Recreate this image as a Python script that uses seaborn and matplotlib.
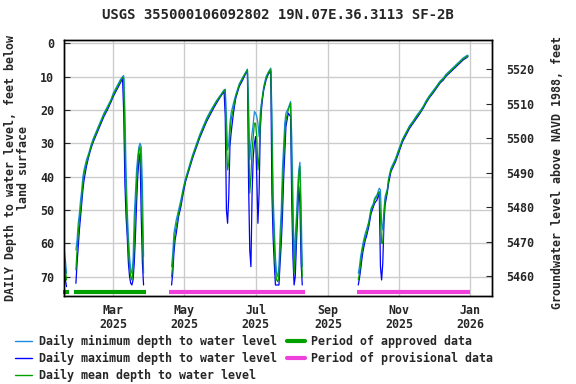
"""Groundwater depth hydrograph for USGS well 355000106092802.
"""
import matplotlib
matplotlib.use("Agg")
import matplotlib.pyplot as plt
from matplotlib.lines import Line2D
import pandas as pd
import seaborn as sns

# Daily depth to water (feet below land surface)
dates = [
    # Jan
    "2025-01-18", "2025-01-19", "2025-01-20",
    # Jan - Mar
    "2025-01-28", "2025-01-29", "2025-01-30", "2025-01-31", "2025-02-01",
    "2025-02-02", "2025-02-03", "2025-02-04", "2025-02-06", "2025-02-08",
    "2025-02-10", "2025-02-12", "2025-02-15", "2025-02-18", "2025-02-21",
    "2025-02-24", "2025-02-27", "2025-03-01", "2025-03-04", "2025-03-07",
    "2025-03-09", "2025-03-10", "2025-03-11", "2025-03-12", "2025-03-13",
    "2025-03-14", "2025-03-15", "2025-03-16", "2025-03-17", "2025-03-18",
    "2025-03-19", "2025-03-20", "2025-03-21", "2025-03-22", "2025-03-23",
    "2025-03-24", "2025-03-25", "2025-03-26", "2025-03-27",
    # Apr - Aug
    "2025-04-20", "2025-04-21", "2025-04-22", "2025-04-23", "2025-04-24",
    "2025-04-26", "2025-04-28", "2025-04-30", "2025-05-02", "2025-05-05",
    "2025-05-08", "2025-05-11", "2025-05-14", "2025-05-17", "2025-05-20",
    "2025-05-23", "2025-05-26", "2025-05-29", "2025-06-01", "2025-06-04",
    "2025-06-05", "2025-06-06", "2025-06-07", "2025-06-08", "2025-06-09",
    "2025-06-10", "2025-06-12", "2025-06-14", "2025-06-17", "2025-06-20",
    "2025-06-22", "2025-06-24", "2025-06-25", "2025-06-26", "2025-06-27",
    "2025-06-28", "2025-06-29", "2025-06-30", "2025-07-01", "2025-07-02",
    "2025-07-03", "2025-07-04", "2025-07-05", "2025-07-06", "2025-07-07",
    "2025-07-08", "2025-07-10", "2025-07-12", "2025-07-14", "2025-07-15",
    "2025-07-16", "2025-07-17", "2025-07-18", "2025-07-19", "2025-07-20",
    "2025-07-21", "2025-07-22", "2025-07-23", "2025-07-24", "2025-07-25",
    "2025-07-26", "2025-07-27", "2025-07-29", "2025-07-31", "2025-08-01",
    "2025-08-02", "2025-08-03", "2025-08-04", "2025-08-05", "2025-08-06",
    "2025-08-07", "2025-08-08", "2025-08-09", "2025-08-10",
    # Sep - Dec
    "2025-09-27", "2025-09-28", "2025-09-29", "2025-09-30", "2025-10-01",
    "2025-10-03", "2025-10-04", "2025-10-06", "2025-10-07", "2025-10-08",
    "2025-10-10", "2025-10-11", "2025-10-13", "2025-10-14", "2025-10-15",
    "2025-10-16", "2025-10-17", "2025-10-18", "2025-10-19", "2025-10-20",
    "2025-10-22", "2025-10-23", "2025-10-25", "2025-10-27", "2025-10-29",
    "2025-11-01", "2025-11-04", "2025-11-07", "2025-11-10", "2025-11-13",
    "2025-11-16", "2025-11-19", "2025-11-22", "2025-11-24", "2025-11-27",
    "2025-11-30", "2025-12-03", "2025-12-06", "2025-12-09", "2025-12-11",
    "2025-12-14", "2025-12-17", "2025-12-20", "2025-12-23", "2025-12-26",
    "2025-12-29", "2025-12-30",
]

depth_mean = [
    64, 68, 71,
    68, 62, 57, 53, 50, 46, 42, 39, 36, 33.5,
    31, 29, 26.5, 24, 21.5, 19.5, 17.3, 15.5, 13.5, 11.5,
    10.3, 10.5, 30, 45, 55, 62, 67, 70, 71, 68,
    60, 50, 42, 36, 32, 31, 38, 55, 69,
    70, 66, 60, 57, 55, 51, 48, 44, 41, 37.5,
    34, 31, 28, 25.5, 23, 21, 19, 17.2, 15.8, 14.2,
    14, 30, 38, 36, 27, 23, 19.5, 16, 12.5, 10.5,
    9.2, 8, 25, 45, 40, 32, 28, 24, 24, 28,
    38, 34, 24, 18.5, 16, 13.5, 10.5, 8.9, 7.8, 28,
    50, 60, 68, 71, 71.5, 70, 62, 55, 44, 35,
    28, 23, 20, 18, 38, 55, 69, 64, 55, 48,
    40, 37, 58, 70,
    71, 69, 66, 63, 61, 58, 57, 54, 52, 50,
    48.5, 47, 46, 45, 44.5, 52, 60, 60, 52, 47,
    44, 41, 38, 36.5, 35, 32, 29, 27, 25, 23.7,
    22, 20.7, 19, 17.7, 16, 14.7, 13.2, 11.7, 10.7, 9.7,
    8.7, 7.7, 6.7, 5.7, 4.7, 4, 3.8,
]

depth_min = [
    62, 65, 69,
    62, 59, 54, 51, 47, 44, 40, 38, 35, 33,
    30.5, 28.5, 26, 23.5, 21, 19, 17, 15, 13, 11,
    10, 9.7, 20, 38, 50, 58, 64, 68, 69, 65,
    52, 45, 38, 34, 31, 30, 31, 42, 64,
    67, 63, 57, 55, 53, 50, 47, 43.5, 40.5, 37,
    33.5, 30.5, 27.5, 25, 22.5, 20.5, 18.7, 17, 15.5, 14,
    13.8, 22, 32, 30, 24, 21, 18, 15.5, 12.2, 10.2,
    9, 7.8, 18, 35, 30, 27, 24, 20.5, 21, 22,
    24, 28, 21, 18, 15.5, 13, 10, 8.6, 7.5, 20,
    45, 55, 64, 69, 70, 67, 57, 50, 38, 31,
    24, 21, 19.5, 17.5, 28, 45, 66, 58, 52, 44,
    38, 35.7, 48, 67,
    69, 67, 64, 62, 60, 57, 56, 53.5, 51.5, 49.5,
    48, 46.5, 45.5, 44.5, 43.5, 44, 54, 56, 50, 46,
    43.5, 40.5, 37.5, 36, 34.5, 31.5, 28.7, 26.7, 24.7, 23.3,
    21.7, 20.3, 18.7, 17.3, 15.7, 14.3, 12.9, 11.4, 10.4, 9.4,
    8.4, 7.4, 6.4, 5.4, 4.4, 3.7, 3.6,
]

depth_max = [
    67, 71, 73,
    72, 66, 61, 56, 52, 48, 44, 41, 37, 34,
    31.5, 29.5, 27, 24.5, 22, 20, 17.7, 16, 14, 12,
    10.6, 21, 42, 52, 58, 66, 70, 72, 72.5, 71,
    66, 58, 48, 40, 35, 33, 52, 66, 72.5,
    72.5, 69, 63, 59, 57, 52, 49, 45, 41.5, 38,
    34.5, 31.5, 28.5, 26, 23.5, 21.5, 19.5, 17.7, 16, 14.5,
    22, 50, 54, 46, 31, 27, 21, 16.5, 13, 11,
    9.5, 8.3, 42, 62, 67, 45, 34, 30, 28, 40,
    54, 45, 26, 20, 16.5, 14, 11, 9.2, 8.5, 45,
    58, 66, 72.5, 72.5, 72.5, 72.5, 66, 60, 52, 41,
    33, 25, 21, 22, 48, 64, 72.5, 70, 60, 52,
    43, 48, 66, 72.5,
    72.5, 70.5, 68, 65, 62.5, 59, 58, 55, 53, 51,
    49, 48, 47, 46, 45, 67, 71, 66, 54, 48.5,
    44.5, 42, 38.5, 37, 35.5, 32.5, 29.5, 27.5, 25.5, 24,
    22.5, 21, 19.3, 18, 16.3, 15, 13.5, 12, 11, 10,
    9, 8, 7, 6, 5, 4.3, 4,
]

# Data-approval periods (drawn as bars along the bottom)
approved_periods = [("2025-01-17", "2025-01-22"), ("2025-01-26", "2025-03-29")]
provisional_periods = [("2025-04-18", "2025-08-12"), ("2025-09-26", "2026-01-01")]

# Axis ticks
tick_dates = ["2025-03-01", "2025-05-01", "2025-07-01",
              "2025-09-01", "2025-11-01", "2026-01-01"]
tick_labels = ["Mar\n2025", "May\n2025", "Jul\n2025",
               "Sep\n2025", "Nov\n2025", "Jan\n2026"]
elev_ticks = [5460, 5470, 5480, 5490, 5500, 5510, 5520]

assert len(dates) == len(depth_mean) == len(depth_min) == len(depth_max)

# Build a long dataframe, breaking the lines where data are missing
df = pd.DataFrame({
    "date": pd.to_datetime(dates),
    "Daily minimum depth to water level": depth_min,
    "Daily maximum depth to water level": depth_max,
    "Daily mean depth to water level": depth_mean,
})
df["seg"] = (df["date"].diff().dt.days > 4).cumsum()
long = df.melt(id_vars=["date", "seg"], var_name="series", value_name="depth")

series_order = ["Daily minimum depth to water level",
                "Daily maximum depth to water level",
                "Daily mean depth to water level"]
palette = {series_order[0]: "#1a8cdc",
           series_order[1]: "#0000ff",
           series_order[2]: "#00a000"}
approved_color = "#00a000"
provisional_color = "#f040dc"

sns.set_style("white")
plt.rcParams["font.family"] = ["DejaVu Sans Mono"]
plt.rcParams["font.weight"] = "bold"
plt.rcParams["axes.labelweight"] = "bold"
plt.rcParams["axes.titleweight"] = "bold"
plt.rcParams["font.size"] = 8.4

fig = plt.figure(figsize=(5.76, 3.84), dpi=100)
ax = fig.add_axes([0.111, 0.2292, 0.7437, 0.6679])

sns.lineplot(
    data=long,
    x="date",
    y="depth",
    hue="series",
    hue_order=series_order,
    palette=palette,
    units="seg",
    estimator=None,
    legend=False,
    lw=0.9,
    ax=ax,
)

# Approval period bars
for start, end in approved_periods:
    ax.plot(pd.to_datetime([start, end]), [74.7, 74.7], color=approved_color,
            lw=3, solid_capstyle="butt", clip_on=False)
for start, end in provisional_periods:
    ax.plot(pd.to_datetime([start, end]), [74.7, 74.7], color=provisional_color,
            lw=3, solid_capstyle="butt", clip_on=False)

ax.set_xlim(pd.Timestamp("2025-01-17 18:00"), pd.Timestamp("2026-01-19 21:00"))
ax.set_ylim(75.8, -1.1)
ax.set_yticks(range(0, 71, 10))
ax.set_xticks(pd.to_datetime(tick_dates))
ax.set_xticklabels(tick_labels, linespacing=1.05)
ax.grid(True, color="#cccccc", lw=1)
ax.set_axisbelow(True)
ax.tick_params(axis="y", direction="in", length=4, pad=7)
ax.tick_params(axis="x", direction="in", length=4, pad=6)
ax.set_xlabel("")
ax.set_ylabel("DAILY Depth to water level, feet below\nland surface",
              linespacing=1.0)
ax.yaxis.set_label_coords(-0.079, 0.5)
for sp in ax.spines.values():
    sp.set_color("black")
    sp.set_linewidth(1)

# Elevation axis on the right
ax2 = ax.twinx()
ax2.set_ylim(5454.2, 5528.65)
ax2.set_yticks(elev_ticks)
ax2.tick_params(axis="y", direction="in", length=4, pad=10)
ax2.grid(False)
ax2.set_ylabel("Groundwater level above NAVD 1988, feet")
ax2.yaxis.set_label_coords(1.137, 0.48)
for sp in ax2.spines.values():
    sp.set_color("black")
    sp.set_linewidth(1)

ax.set_title("USGS 355000106092802 19N.07E.36.3113 SF-2B", pad=15,
             fontweight="bold")

# Legend below the plot
handles = [
    Line2D([], [], color=palette[series_order[0]], lw=1),
    Line2D([], [], color=palette[series_order[1]], lw=1),
    Line2D([], [], color=palette[series_order[2]], lw=1),
    Line2D([], [], color=approved_color, lw=3),
    Line2D([], [], color=provisional_color, lw=3),
]
labels = series_order + ["Period of approved data", "Period of provisional data"]
fig.legend(
    handles,
    labels,
    ncol=2,
    loc="upper left",
    bbox_to_anchor=(0.026, 0.128),
    frameon=False,
    borderpad=0,
    borderaxespad=0,
    handlelength=1.5,
    handletextpad=0.55,
    columnspacing=0.9,
    labelspacing=0.32,
)

fig.savefig("out.png", dpi=100)
